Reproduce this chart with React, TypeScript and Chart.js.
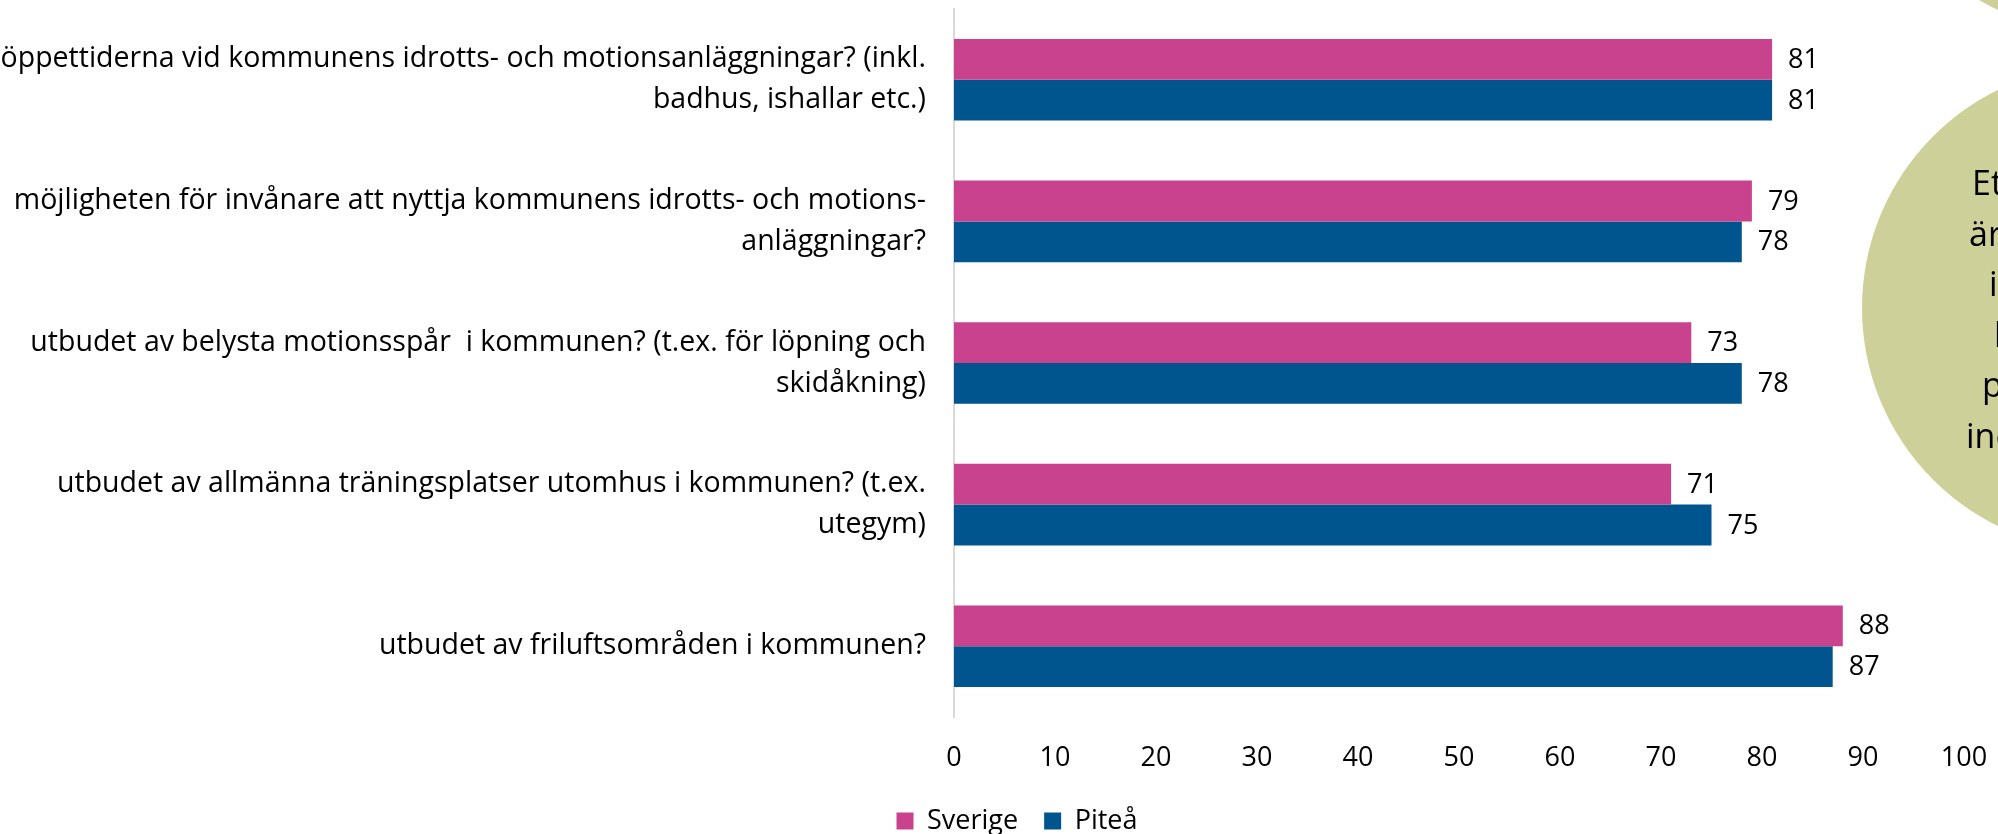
import React, { useEffect, useRef } from "react";
import { Chart, registerables } from "chart.js";

Chart.register(...registerables);

const categories: string[][] = [
  ["öppettiderna vid kommunens idrotts- och motionsanläggningar? (inkl.", "badhus, ishallar etc.)"],
  ["möjligheten för invånare att nyttja kommunens idrotts- och motions-", "anläggningar?"],
  ["utbudet av belysta motionsspår  i kommunen? (t.ex. för löpning och", "skidåkning)"],
  ["utbudet av allmänna träningsplatser utomhus i kommunen? (t.ex.", "utegym)"],
  ["utbudet av friluftsområden i kommunen?"],
];
const seriesNames = ["Sverige", "Piteå"];
const sverige = [81, 79, 73, 71, 88];
const pitea = [81, 78, 78, 75, 87];
const xMin = 0;
const xMax = 100;
const xStep = 10;
const bubbleLines = ["Ett", "är", "i", "l", "p", "ind"];

const FONT = "'Open Sans', 'Noto Sans', sans-serif";
const MAGENTA = "#C8428E";
const BLUE = "#01558F";
const KHAKI = "#CED09A";

const W = 2032;
const H = 862;

const dataLabels = {
  id: "dataLabels",
  afterDatasetsDraw(chart: any) {
    const ctx = chart.ctx;
    ctx.save();
    ctx.font = `27px ${FONT}`;
    ctx.fillStyle = "#000";
    ctx.textBaseline = "middle";
    ctx.textAlign = "left";
    chart.data.datasets.forEach((ds: any, di: number) => {
      chart.getDatasetMeta(di).data.forEach((bar: any, i: number) => {
        ctx.fillText(String(ds.data[i]), bar.x + 16, bar.y + 1);
      });
    });
    ctx.restore();
  },
};

const legendShift = {
  id: "legendShift",
  afterLayout(chart: any) {
    const lg = chart.legend;
    if (!lg) return;
    lg.left += 35;
    lg.right += 35;
    lg.top -= 17.5;
    lg.bottom -= 17.5;
  },
};

const bubble = {
  id: "bubble",
  afterDraw(chart: any) {
    const ctx = chart.ctx;
    ctx.save();
    ctx.fillStyle = KHAKI;
    ctx.beginPath();
    ctx.arc(2105, 308, 243, 0, Math.PI * 2);
    ctx.fill();
    ctx.beginPath();
    ctx.arc(2081, -172, 200, 0, Math.PI * 2);
    ctx.fill();
    ctx.fillStyle = "#000";
    ctx.font = `34px ${FONT}`;
    ctx.textAlign = "left";
    ctx.textBaseline = "alphabetic";
    const xs = [1972, 1969, 1989, 1994, 1982, 1966];
    bubbleLines.forEach((t, i) => {
      ctx.fillText(t, xs[i], 195 + i * 50.6);
    });
    ctx.restore();
  },
};

export default function App() {
  const ref = useRef<HTMLCanvasElement | null>(null);
  useEffect(() => {
    if (!ref.current) return;
    const chart = new Chart(ref.current, {
      type: "bar",
      data: {
        labels: categories,
        datasets: [
          { label: seriesNames[0], data: sverige, backgroundColor: MAGENTA, borderWidth: 0 },
          { label: seriesNames[1], data: pitea, backgroundColor: BLUE, borderWidth: 0 },
        ],
      },
      options: {
        indexAxis: "y",
        responsive: false,
        animation: false,
        layout: { padding: { top: 9, right: 68, bottom: 0, left: 0 } },
        datasets: { bar: { categoryPercentage: 0.576, barPercentage: 1 } },
        scales: {
          x: {
            min: xMin,
            max: xMax,
            ticks: { stepSize: xStep, font: { family: FONT, size: 27, lineHeight: 1.2 }, color: "#000", padding: 24.8 },
            grid: { display: false, drawTicks: false },
            border: { display: false },
          },
          y: {
            ticks: { font: { family: FONT, size: 28.5, lineHeight: 1.44 }, color: "#000", padding: 28 },
            grid: { display: false, drawTicks: false },
            border: { display: true, color: "#D9D9D9", width: 2 },
            afterFit: (s: any) => {
              s.width = 954;
              s.paddingTop = 0;
              s.paddingBottom = 0;
            },
          },
        },
        plugins: {
          legend: {
            position: "bottom",
            labels: { boxWidth: 17, boxHeight: 17, padding: 26, font: { family: FONT, size: 27 }, color: "#000" },
          },
          tooltip: { enabled: false },
        },
      } as any,
      plugins: [dataLabels, legendShift, bubble],
    });
    return () => chart.destroy();
  }, []);
  return (
    <div style={{ position: "absolute", left: 0, top: 0, width: 1998, height: 834, overflow: "hidden", background: "#fff" }}>
      <canvas ref={ref} width={W} height={H} style={{ display: "block" }} />
    </div>
  );
}
